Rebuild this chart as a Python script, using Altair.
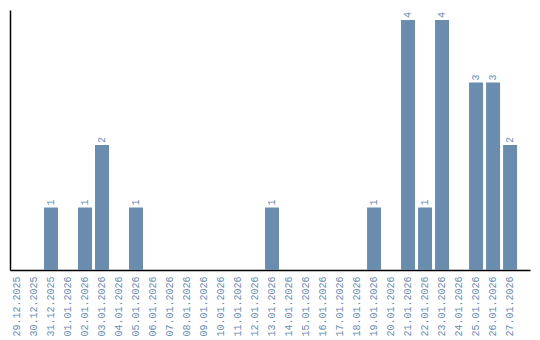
import altair as alt
import pandas as pd

dates = ["29.12.2025", "30.12.2025", "31.12.2025", "01.01.2026", "02.01.2026",
         "03.01.2026", "04.01.2026", "05.01.2026", "06.01.2026", "07.01.2026",
         "08.01.2026", "09.01.2026", "10.01.2026", "11.01.2026", "12.01.2026",
         "13.01.2026", "14.01.2026", "15.01.2026", "16.01.2026", "17.01.2026",
         "18.01.2026", "19.01.2026", "20.01.2026", "21.01.2026", "22.01.2026",
         "23.01.2026", "24.01.2026", "25.01.2026", "26.01.2026", "27.01.2026"]
counts = [0, 0, 1, 0, 1,
          2, 0, 1, 0, 0,
          0, 0, 0, 0, 0,
          1, 0, 0, 0, 0,
          0, 1, 0, 4, 1,
          4, 0, 3, 3, 2]

df = pd.DataFrame({"date": dates, "count": counts})
df = df[df["count"] > 0]

FONT = "Liberation Mono"
COLOR = "#6a8caf"

x = alt.X("date:N", sort=dates,
          scale=alt.Scale(domain=dates, paddingInner=0.1765, paddingOuter=0.38, align=0),
          axis=alt.Axis(title=None, labelAngle=-90, labelFont=FONT, labelFontSize=10,
                        labelColor=COLOR, ticks=False, domainColor="black",
                        domainWidth=1.5, labelPadding=6, labelBaseline="middle",
                        labelAlign="right"))
y = alt.Y("count:Q", scale=alt.Scale(domain=[0, 4.16], nice=False),
          axis=alt.Axis(title=None, labels=False, ticks=False, grid=False,
                        domainColor="black", domainWidth=1.5))

bars = alt.Chart(df).mark_bar(color=COLOR).encode(x=x, y=y)
text = alt.Chart(df).mark_text(angle=270, align="left", baseline="middle", dx=2,
                               font=FONT, fontSize=10, color=COLOR).encode(
    x=x, y=y, text="count:Q")

chart = (bars + text).properties(
    width=520, height=260,
    autosize=alt.AutoSizeParams(type="none"),
    padding={"left": 10, "top": 10, "right": 10, "bottom": 70},
).configure_view(stroke=None)

chart.save("out.html", embed_options={"renderer": "svg", "actions": False})
